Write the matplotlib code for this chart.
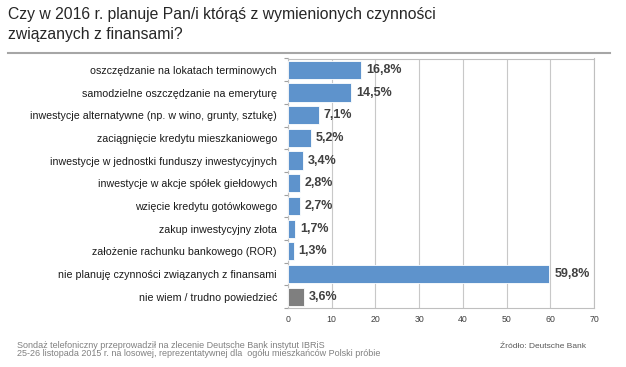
import matplotlib
matplotlib.use("Agg")
import matplotlib.pyplot as plt
from matplotlib.lines import Line2D

categories = [
    "oszczędzanie na lokatach terminowych",
    "samodzielne oszczędzanie na emeryturę",
    "inwestycje alternatywne (np. w wino, grunty, sztukę)",
    "zaciągnięcie kredytu mieszkaniowego",
    "inwestycje w jednostki funduszy inwestycyjnych",
    "inwestycje w akcje spółek giełdowych",
    "wzięcie kredytu gotówkowego",
    "zakup inwestycyjny złota",
    "założenie rachunku bankowego (ROR)",
    "nie planuję czynności związanych z finansami",
    "nie wiem / trudno powiedzieć",
]
values = [16.8, 14.5, 7.1, 5.2, 3.4, 2.8, 2.7, 1.7, 1.3, 59.8, 3.6]
value_labels = ["16,8%", "14,5%", "7,1%", "5,2%", "3,4%", "2,8%", "2,7%", "1,7%", "1,3%", "59,8%", "3,6%"]
xticks = [0, 10, 20, 30, 40, 50, 60, 70]

plt.rcParams['font.family'] = ['Liberation Sans', 'DejaVu Sans']

fig = plt.figure(figsize=(6.26, 3.67), dpi=100)
ax = fig.add_axes([288/626, 1-308/367, (594-288)/626, (308-58.5)/367])

blue = "#5E93CC"
gray = "#7F7F7F"
colors = [blue]*10 + [gray]
n = len(categories)
ypos = list(range(n))
ax.barh(ypos, values, height=0.8, color=colors, edgecolor="white", linewidth=0.6, zorder=3)
ax.set_ylim(n-0.5, -0.5)
ax.set_xlim(0, 70)
ax.set_xticks(xticks)
ax.set_xticklabels([str(t) for t in xticks], fontsize=6.3, color="#404040")
ax.set_yticks(ypos)
ax.set_yticklabels(categories, fontsize=7.7, color="#1a1a1a")
ax.tick_params(axis='y', length=0, pad=8)
ax.tick_params(axis='x', length=0, pad=5)
ax.set_yticks([i - 0.5 for i in range(n+1)], minor=True)
ax.tick_params(axis='y', which='minor', length=3, color="#A0A0A0", width=0.8)
ax.grid(axis='x', color="#C8C8C8", linewidth=0.8, zorder=0)
for s in ax.spines.values():
    s.set_color("#BFBFBF")
    s.set_linewidth(0.8)

for y, v, lab in zip(ypos, values, value_labels):
    ax.text(v + 1.1, y, lab, va='center', ha='left', fontsize=9, fontweight='bold', color="#404040", zorder=4)

fig.text(8/626, 1-7/367, "Czy w 2016 r. planuje Pan/i którąś z wymienionych czynności\nzwiązanych z finansami?",
         fontsize=11.3, color="#262626", va='top', ha='left', linespacing=1.45)
fig.add_artist(Line2D([8/626, 610/626], [1-53/367, 1-53/367], color="#A6A6A6", linewidth=1.5))

foot_family = ['Liberation Sans Narrow', 'Liberation Sans', 'DejaVu Sans']
fig.text(17/626, 1-345.5/367, "Sondaż telefoniczny przeprowadził na zlecenie Deutsche Bank instytut IBRiS",
         fontsize=6.45, color="#808080", family=foot_family, va='center', ha='left')
fig.text(17/626, 1-353/367, "25-26 listopada 2015 r. na losowej, reprezentatywnej dla  ogółu mieszkańców Polski próbie",
         fontsize=6.45, color="#808080", family=foot_family, va='center', ha='left')
fig.text(500/626, 1-346/367, "Źródło: Deutsche Bank", fontsize=6, color="#595959", va='center', ha='left')

fig.savefig("out.png", dpi=100)
